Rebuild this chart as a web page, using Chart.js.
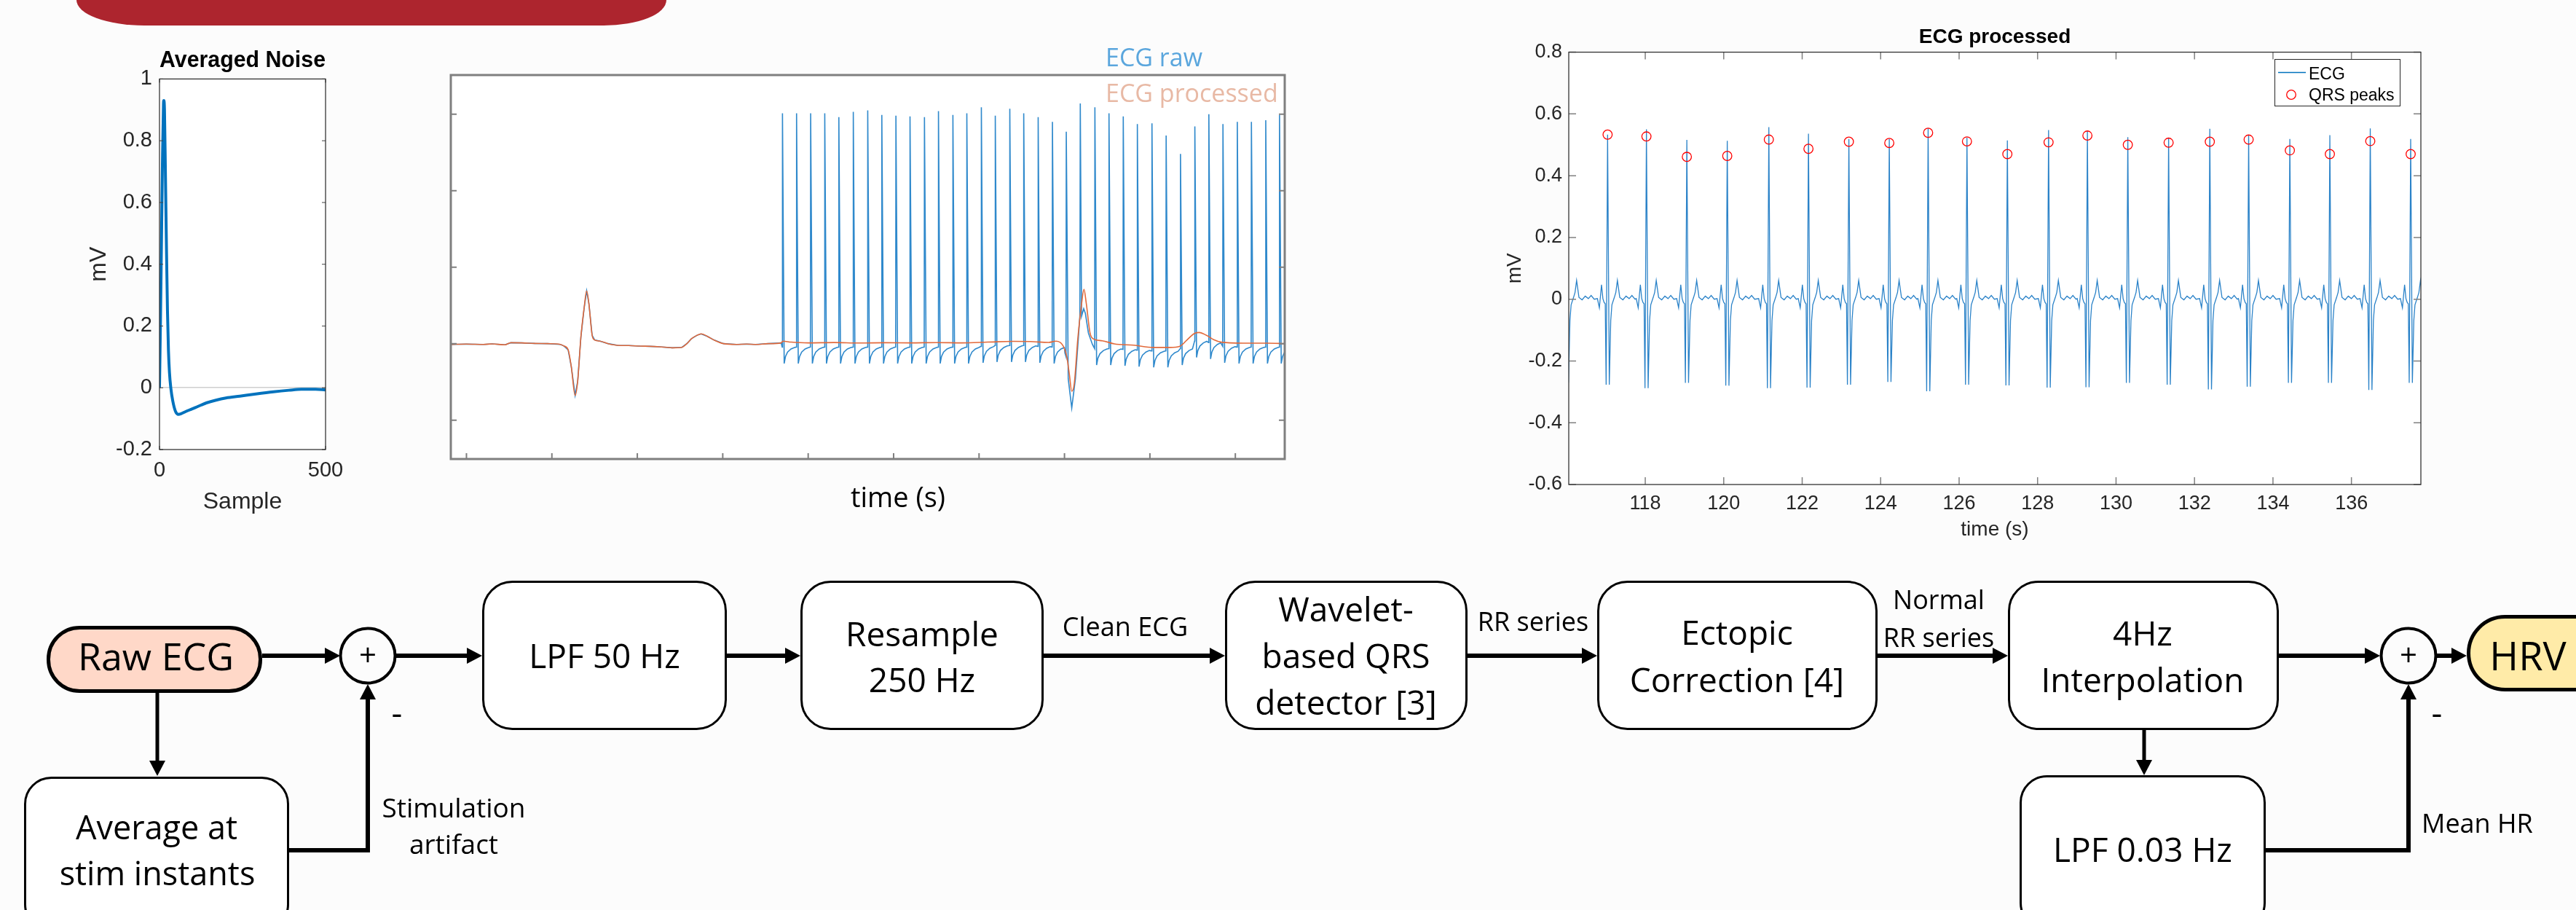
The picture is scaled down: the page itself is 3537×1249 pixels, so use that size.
<!DOCTYPE html>
<html lang="en">
<head>
<meta charset="utf-8">
<title>ECG pre-processing and HRV pipeline</title>
<script src="https://cdn.jsdelivr.net/npm/chart.js@4/dist/chart.umd.min.js"></script>
<style>
  body { margin: 0; background: #fcfcfc; }
  #page { position: relative; width: 3537px; height: 1249px; overflow: hidden; background: #fcfcfc; }
  #banner { position: absolute; left: 105px; top: 0; width: 810px; height: 35px; background: #ad252e;
            border-bottom-left-radius: 93px 35px; border-bottom-right-radius: 86px 35px; }
  canvas { position: absolute; }
  #overlay { position: absolute; left: 0; top: 0; }
</style>
</head>
<body>
<div id="page">
  <div id="banner"></div>
  <canvas id="noise" width="380" height="680" style="left:100px;top:50px"></canvas>
  <canvas id="rawproc" width="1180" height="560" style="left:600px;top:90px"></canvas>
  <canvas id="ecgproc" width="1320" height="740" style="left:2040px;top:20px"></canvas>

  <svg id="overlay" width="3537" height="1249">
    <!-- blocks -->
    <g fill="#fff" stroke="#000" stroke-width="3">
      <rect x="663.5" y="798.5" width="333" height="202" rx="40"/>
      <rect x="1100.5" y="798.5" width="331" height="202" rx="40"/>
      <rect x="1683.5" y="798.5" width="330" height="202" rx="40"/>
      <rect x="2194.5" y="798.5" width="382" height="202" rx="40"/>
      <rect x="2758.5" y="798.5" width="369" height="202" rx="40"/>
      <rect x="34.5" y="1067.5" width="361" height="210" rx="36"/>
      <rect x="2774.5" y="1065.5" width="335" height="210" rx="36"/>
    </g>
    <rect x="66.5" y="861.5" width="291" height="87" rx="43" fill="#ffd8c8" stroke="#000" stroke-width="5"/>
    <rect x="3389.5" y="846.5" width="300" height="100" rx="50" fill="#ffeba8" stroke="#000" stroke-width="5"/>
    <g fill="none" stroke="#000" stroke-width="4">
      <circle cx="505" cy="900" r="37.5"/>
      <circle cx="3307" cy="900" r="37.5"/>
    </g>
    <!-- connectors -->
    <g fill="none" stroke="#000" stroke-width="6">
      <path d="M360 900 H446"/><path d="M544 900 H641"/><path d="M998 900 H1078"/>
      <path d="M1433 900 H1661"/><path d="M2015 900 H2172"/><path d="M2578 900 H2736"/>
      <path d="M3129 900 H3247"/><path d="M3346 900 H3366"/>
      <path d="M397 1167 H505 V960"/><path d="M3111 1167 H3307 V960"/>
    </g>
    <g fill="none" stroke="#000" stroke-width="5">
      <path d="M216 950 V1044"/><path d="M2944 1002 V1043"/>
    </g>
    <g fill="#000">
      <polygon points="446,889 467,900 446,911"/><polygon points="641,889 662,900 641,911"/>
      <polygon points="1078,889 1099,900 1078,911"/><polygon points="1661,889 1682,900 1661,911"/>
      <polygon points="2172,889 2193,900 2172,911"/><polygon points="2736,889 2757,900 2736,911"/>
      <polygon points="3247,889 3268,900 3247,911"/><polygon points="3366,889 3387,900 3366,911"/>
      <polygon points="205,1044 216,1065 227,1044"/><polygon points="2933,1043 2944,1064 2955,1043"/>
      <polygon points="494,960 505,939 516,960"/><polygon points="3296,960 3307,939 3318,960"/>
    </g>
    <!-- block texts -->
    <g font-family="'Open Sans', sans-serif" fill="#000" text-anchor="middle">
      <text x="214" y="920" font-size="52">Raw ECG</text>
      <text x="3471" y="920" font-size="54">HRV</text>
      <text x="505" y="914" font-size="42">+</text>
      <text x="3307" y="914" font-size="42">+</text>
      <text x="545" y="995" font-size="46">-</text>
      <text x="3346" y="995" font-size="46">-</text>
      <text x="830" y="917" font-size="46">LPF 50 Hz</text>
      <text x="1266" y="887" font-size="46">Resample</text>
      <text x="1266" y="950" font-size="46">250 Hz</text>
      <text x="1848" y="853" font-size="46">Wavelet-</text>
      <text x="1848" y="917" font-size="46">based QRS</text>
      <text x="1848" y="981" font-size="46">detector [3]</text>
      <text x="2385" y="885" font-size="46">Ectopic</text>
      <text x="2385" y="950" font-size="46">Correction [4]</text>
      <text x="2942" y="886" font-size="46">4Hz</text>
      <text x="2942" y="950" font-size="46">Interpolation</text>
      <text x="215" y="1152" font-size="45">Average at</text>
      <text x="216" y="1215" font-size="45">stim instants</text>
      <text x="2942" y="1183" font-size="46">LPF 0.03 Hz</text>
      <text x="1545" y="873" font-size="36">Clean ECG</text>
      <text x="2105" y="866" font-size="36">RR series</text>
      <text x="2662" y="836" font-size="36">Normal</text>
      <text x="2662" y="888" font-size="36">RR series</text>
      <text x="623" y="1122" font-size="37">Stimulation</text>
      <text x="623" y="1172" font-size="37">artifact</text>
      <text x="3325" y="1143" font-size="36" text-anchor="start">Mean HR</text>
    </g>
    <!-- middle panel annotations -->
    <g font-family="'Open Sans', sans-serif">
      <text x="1518" y="91" font-size="34" fill="#5aa6dd">ECG raw</text>
      <text x="1518" y="140" font-size="34" fill="#e8b9a5">ECG processed</text>
      <text x="1233" y="696" font-size="38" fill="#000" text-anchor="middle">time (s)</text>
    </g>
    <!-- right panel legend -->
    <rect x="3123.5" y="81.5" width="172" height="64" fill="#fff" stroke="#262626" stroke-width="1"/>
    <path d="M3128 99.5 H3166" stroke="#0072bd" stroke-width="1.5"/>
    <circle cx="3146" cy="130" r="6.3" fill="none" stroke="#ff0000" stroke-width="1.3"/>
    <g font-family="'Liberation Sans', Arial, sans-serif" font-size="23" fill="#000">
      <text x="3170" y="109">ECG</text>
      <text x="3170" y="138">QRS peaks</text>
    </g>
  </svg>
</div>

<script>
// ---- Averaged Noise (left panel) ----
const noiseSample = [0, 3, 6, 9, 12, 13, 15, 18, 21, 24, 27, 30, 34, 40, 48, 57, 65, 75, 90, 108, 125, 141, 170, 200, 242, 290, 343, 390, 427, 470, 500];
const noiseMv     = [0, 0.22, 0.48, 0.74, 0.92, 0.93, 0.9, 0.68, 0.45, 0.25, 0.12, 0.05, 0.0, -0.043, -0.076, -0.086, -0.084, -0.079, -0.072, -0.064, -0.056, -0.049, -0.04, -0.033, -0.027, -0.02, -0.013, -0.008, -0.005, -0.005, -0.007];
const noiseTicks  = [-0.2, 0, 0.2, 0.4, 0.6, 0.8, 1];

// ---- ECG raw / processed (middle panel), time in tick units ----
const processedT = [-0.183, 0.0, 0.2, 0.3, 0.45, 0.52, 0.65, 0.8, 0.95, 1.1, 1.14, 1.19, 1.227, 1.272, 1.302, 1.339, 1.377, 1.407, 1.433, 1.471,
  1.501, 1.564, 1.658, 1.771, 1.9, 2.033, 2.15, 2.258, 2.409, 2.521, 2.58, 2.634, 2.7, 2.746, 2.821, 2.896, 3.009, 3.159, 3.28, 3.384,
  3.534, 3.684, 3.703, 3.8, 4.0, 4.3, 4.6, 4.9, 5.2, 5.5, 5.8, 6.1, 6.4, 6.6, 6.815, 6.9, 6.985, 7.028, 7.057, 7.085,
  7.114, 7.157, 7.2, 7.228, 7.256, 7.299, 7.342, 7.442, 7.584, 7.811, 8.038, 8.237, 8.351, 8.436, 8.521, 8.578, 8.663, 8.748, 8.834, 9.089,
  9.373, 9.578];
const processedV = [-0.01, -0.005, -0.01, -0.003, -0.015, 0.012, 0.01, 0.003, 0.0, -0.01, -0.03, -0.08, -0.30, -0.676, -0.49, 0.079, 0.461, 0.69, 0.525, 0.111,
  0.048, 0.032, 0.0, -0.022, -0.025, -0.032, -0.035, -0.041, -0.054, -0.048, 0.0, 0.064, 0.11, 0.127, 0.095, 0.048, 0.0, -0.01, -0.005, -0.01,
  0.0, 0.01, 0.032, 0.02, 0.01, 0.015, 0.008, 0.012, 0.01, 0.014, 0.01, 0.02, 0.03, 0.028, 0.016, 0.032, -0.03, -0.176, -0.40, -0.622,
  -0.527, 0.076, 0.52, 0.71, 0.52, 0.14, 0.06, 0.038, -0.003, -0.02, -0.05, -0.05, -0.035, 0.051, 0.133, 0.146, 0.108, 0.051, 0.019, 0.006,
  0.006, 0.0];

// stimulation spikes in the raw trace
const rawBeatT    = [3.699, 3.864, 4.029, 4.194, 4.359, 4.528, 4.697, 4.862, 5.027, 5.192, 5.361, 5.525, 5.694, 5.857, 6.027, 6.190, 6.360, 6.523, 6.692, 6.859,
  7.356, 7.521, 7.688, 7.853, 8.024, 8.190, 8.358, 8.526, 8.690, 8.855, 9.023, 9.188, 9.356, 9.517];
const rawBeatPeak = [3.01, 3.01, 3.01, 3.01, 2.96, 3.03, 3.05, 2.99, 2.98, 2.97, 2.96, 3.04, 2.99, 3.01, 3.09, 2.98, 3.07, 3.01, 2.96, 2.90,
  3.09, 3.01, 2.97, 2.87, 2.88, 2.72, 2.48, 2.84, 3.00, 2.87, 2.90, 2.90, 2.92, 2.99];
const rawBeatLift = [0, 0, 0, 0, 0, 0, 0, 0, 0, 0, 0, 0, 0, 0, 0.01, 0.02, 0.02, 0.02, 0.01, 0,
  -0.02, -0.02, -0.03, -0.04, -0.05, -0.05, -0.02, 0.08, 0.06, 0.01, 0, 0, 0, 0];
const spikeDt = [-0.003, 0, 0.02, 0.035, 0.06, 0.1, 0.14];
const spikeV  = [-0.045, null, -0.26, -0.17, -0.11, -0.07, -0.05];
// spikes overlapping the second cardiac artefact, read point by point
const rawArtifactT = [7.005, 7.018, 7.021, 7.044, 7.085, 7.128, 7.163, 7.18, 7.185, 7.20, 7.225, 7.245, 7.28, 7.327];
const rawArtifactV = [-0.12, -0.17, 2.77, -0.46, -0.84, -0.46, 0.08, 0.36, 3.14, 0.36, 0.457, 0.394, 0.14, -0.01];

// ---- ECG processed (right panel) ----
const ecgBeatT      = [116.00, 117.04, 118.03, 119.06, 120.09, 121.15, 122.16, 123.19, 124.22, 125.21, 126.20, 127.23, 128.28, 129.27, 130.30, 131.34, 132.39, 133.38, 134.43, 135.45, 136.48, 137.51];
const ecgBeatTop    = [0.52, 0.533, 0.55, 0.516, 0.513, 0.557, 0.536, 0.519, 0.519, 0.553, 0.523, 0.514, 0.548, 0.546, 0.525, 0.523, 0.552, 0.531, 0.519, 0.531, 0.553, 0.519];
const ecgBeatTrough = [-0.27, -0.277, -0.288, -0.271, -0.280, -0.288, -0.286, -0.277, -0.268, -0.298, -0.277, -0.279, -0.286, -0.285, -0.271, -0.277, -0.292, -0.283, -0.271, -0.271, -0.294, -0.271];
const waveDt = [-0.26, -0.21, -0.155, -0.12, -0.09, -0.06, -0.037, 0, 0.043, 0.08, 0.11, 0.17, 0.21, 0.25, 0.31, 0.39, 0.47, 0.55, 0.62, 0.7];
const waveV  = [0.002, -0.028, 0.047, 0.002, -0.01, -0.015, 'trough', 'top', 'trough', -0.069, -0.018, 0.005, 0.022, 0.061, 0.006, -0.002, 0.01, 0.002, 0.012, 0.0];
const qrsT    = [117.04, 118.03, 119.06, 120.09, 121.15, 122.16, 123.19, 124.22, 125.21, 126.20, 127.23, 128.28, 129.27, 130.30, 131.34, 132.39, 133.38, 134.43, 135.45, 136.48, 137.51];
const qrsPeak = [0.533, 0.527, 0.461, 0.464, 0.517, 0.487, 0.510, 0.506, 0.539, 0.511, 0.470, 0.508, 0.530, 0.500, 0.507, 0.510, 0.517, 0.482, 0.470, 0.512, 0.470];

Chart.defaults.font.family = "'Liberation Sans', Arial, sans-serif";
Chart.defaults.color = '#262626';
Chart.defaults.animation = false;
Chart.defaults.plugins.legend.display = false;
Chart.defaults.plugins.tooltip.enabled = false;

// matlab look: white plot box, inward tick marks
const matlabAxes = {
  id: 'matlabAxes',
  beforeDraw(chart) {
    const a = chart.chartArea, ctx = chart.ctx;
    ctx.save();
    ctx.fillStyle = '#fff';
    ctx.fillRect(a.left, a.top, a.right - a.left, a.bottom - a.top);
    ctx.restore();
  },
  afterDatasetsDraw(chart, args, o) {
    const a = chart.chartArea, ctx = chart.ctx, x = chart.scales.x, y = chart.scales.y;
    ctx.save();
    ctx.strokeStyle = o.tickColor;
    ctx.lineWidth = o.tickWidth;
    ctx.beginPath();
    x.ticks.forEach(t => {
      const px = x.getPixelForValue(t.value);
      if (o.sides.includes('bottom')) { ctx.moveTo(px, a.bottom); ctx.lineTo(px, a.bottom - o.tickLen); }
      if (o.sides.includes('top')) { ctx.moveTo(px, a.top); ctx.lineTo(px, a.top + o.tickLen); }
    });
    y.ticks.forEach(t => {
      const py = y.getPixelForValue(t.value);
      if (o.sides.includes('left')) { ctx.moveTo(a.left, py); ctx.lineTo(a.left + o.tickLen, py); }
      if (o.sides.includes('right')) { ctx.moveTo(a.right, py); ctx.lineTo(a.right - o.tickLen, py); }
    });
    ctx.stroke();
    ctx.strokeStyle = o.boxColor;
    ctx.lineWidth = o.boxWidth;
    ctx.strokeRect(a.left, a.top, a.right - a.left, a.bottom - a.top);
    ctx.restore();
  }
};

// matlab style numbers: 1, 0, -0.2
const shortNum = v => String(+(+v).toFixed(2)).replace(/^-0$/, '0');

function fixWidth(w) {
  return s => { s.width = w; s.paddingTop = 0; s.paddingBottom = 0; s.paddingLeft = 0; s.paddingRight = 0; };
}
function fixHeight(h) {
  return s => { s.height = h; s.paddingTop = 0; s.paddingBottom = 0; s.paddingLeft = 0; s.paddingRight = 0; };
}

// left panel
new Chart(document.getElementById('noise'), {
  type: 'line',
  data: {
    datasets: [{
      data: noiseSample.map((s, i) => ({ x: s, y: noiseMv[i] })),
      borderColor: '#0072bd', borderWidth: 4, pointRadius: 0, cubicInterpolationMode: 'monotone'
    }]
  },
  options: {
    responsive: false,
    layout: { padding: { top: 0, right: 33, bottom: 20, left: 0 } },
    plugins: {
      title: { display: true, text: 'Averaged Noise', fullSize: false, color: '#000',
               font: { size: 32, weight: 'bold' }, padding: { top: 14, bottom: 6 } },
      matlabAxes: { sides: ['left', 'right', 'top', 'bottom'], tickLen: 5, tickWidth: 1, tickColor: '#444',
                    boxColor: '#262626', boxWidth: 1.2 }
    },
    scales: {
      x: {
        type: 'linear', min: 0, max: 500,
        ticks: { stepSize: 500, padding: 12, font: { size: 29 }, maxRotation: 0, autoSkip: false, callback: shortNum },
        grid: { display: false, drawTicks: false }, border: { display: false },
        title: { display: true, text: 'Sample', color: '#262626', font: { size: 32 }, padding: { top: 0, bottom: 2 } },
        afterFit: fixHeight(93)
      },
      y: {
        min: -0.2, max: 1,
        afterBuildTicks: s => { s.ticks = noiseTicks.map(v => ({ value: v })); },
        ticks: { padding: 10, font: { size: 29 }, autoSkip: false, callback: shortNum },
        grid: { drawTicks: false, lineWidth: 1.5, color: c => Math.abs(c.tick.value) < 1e-9 ? '#cfcfcf' : 'rgba(0,0,0,0)' },
        border: { display: false },
        title: { display: true, text: 'mV', color: '#262626', font: { size: 32 }, padding: { top: 17, bottom: 0 } },
        afterFit: fixWidth(119)
      }
    }
  },
  plugins: [matlabAxes]
});

// middle panel
const processedPts = processedT.map((t, i) => ({ x: t, y: processedV[i] }));
const rawPts = processedPts.filter(p => p.x < 3.69);
rawBeatT.forEach((t0, i) => {
  spikeDt.forEach((dt, k) => {
    const v = spikeV[k] === null ? rawBeatPeak[i] : spikeV[k] + rawBeatLift[i];
    rawPts.push({ x: +(t0 + dt).toFixed(4), y: v });
  });
});
rawArtifactT.forEach((t, i) => rawPts.push({ x: t, y: rawArtifactV[i] }));
rawPts.sort((a, b) => a.x - b.x);

new Chart(document.getElementById('rawproc'), {
  type: 'line',
  data: {
    datasets: [
      { label: 'ECG raw', data: rawPts, borderColor: '#2f89cc', borderWidth: 1.6, pointRadius: 0, tension: 0, order: 1 },
      { label: 'ECG processed', data: processedPts, borderColor: '#e2693a', borderWidth: 1.6, pointRadius: 0,
        cubicInterpolationMode: 'monotone', order: 0 }
    ]
  },
  options: {
    responsive: false,
    layout: { padding: { top: 13, right: 16, bottom: 0, left: 0 } },
    plugins: {
      matlabAxes: { sides: ['left', 'right', 'bottom'], tickLen: 8, tickWidth: 2, tickColor: '#7f7f7f',
                    boxColor: '#7f7f7f', boxWidth: 3 }
    },
    scales: {
      x: {
        type: 'linear', min: -0.183, max: 9.578,
        ticks: { stepSize: 1, includeBounds: false, display: false },
        grid: { display: false, drawTicks: false }, border: { display: false },
        afterFit: fixHeight(20)
      },
      y: {
        min: -1.508, max: 3.511,
        ticks: { stepSize: 1, includeBounds: false, display: false },
        grid: { display: false, drawTicks: false }, border: { display: false },
        afterFit: fixWidth(19)
      }
    }
  },
  plugins: [matlabAxes]
});

// right panel
const ecgPts = [];
ecgBeatT.forEach((t0, i) => {
  waveDt.forEach((dt, k) => {
    const m = waveV[k];
    const v = m === 'top' ? ecgBeatTop[i] : m === 'trough' ? ecgBeatTrough[i] : m;
    ecgPts.push({ x: +(t0 + dt).toFixed(3), y: v });
  });
});

new Chart(document.getElementById('ecgproc'), {
  type: 'line',
  data: {
    datasets: [
      { label: 'QRS peaks', data: qrsT.map((t, i) => ({ x: t, y: qrsPeak[i] })), showLine: false,
        pointStyle: 'circle', pointRadius: 6.3, borderColor: '#ff0000', borderWidth: 1.3,
        backgroundColor: 'rgba(0,0,0,0)', order: 0 },
      { label: 'ECG', data: ecgPts, borderColor: '#2a82c8', borderWidth: 1.3, pointRadius: 0, tension: 0, order: 1 }
    ]
  },
  options: {
    responsive: false,
    layout: { padding: { top: 0, right: 36, bottom: 0, left: 0 } },
    plugins: {
      title: { display: true, text: 'ECG processed', fullSize: false, color: '#000',
               font: { size: 28, weight: 'bold' }, padding: { top: 14, bottom: 4 } },
      matlabAxes: { sides: ['left', 'right', 'top', 'bottom'], tickLen: 10, tickWidth: 1.5, tickColor: '#808080',
                    boxColor: '#333', boxWidth: 1.3 }
    },
    scales: {
      x: {
        type: 'linear', min: 116.05, max: 137.77,
        ticks: { stepSize: 2, includeBounds: false, padding: 10, font: { size: 27 }, maxRotation: 0, autoSkip: false, callback: shortNum },
        grid: { display: false, drawTicks: false }, border: { display: false },
        title: { display: true, text: 'time (s)', color: '#262626', font: { size: 28 }, padding: { top: 0, bottom: 16 } },
        afterFit: fixHeight(95)
      },
      y: {
        min: -0.6, max: 0.8,
        ticks: { stepSize: 0.2, padding: 9, font: { size: 27 }, autoSkip: false, callback: shortNum },
        grid: { display: false, drawTicks: false }, border: { display: false },
        title: { display: true, text: 'mV', color: '#262626', font: { size: 28 }, padding: { top: 23, bottom: 0 } },
        afterFit: fixWidth(114)
      }
    }
  },
  plugins: [matlabAxes]
});
</script>
</body>
</html>
